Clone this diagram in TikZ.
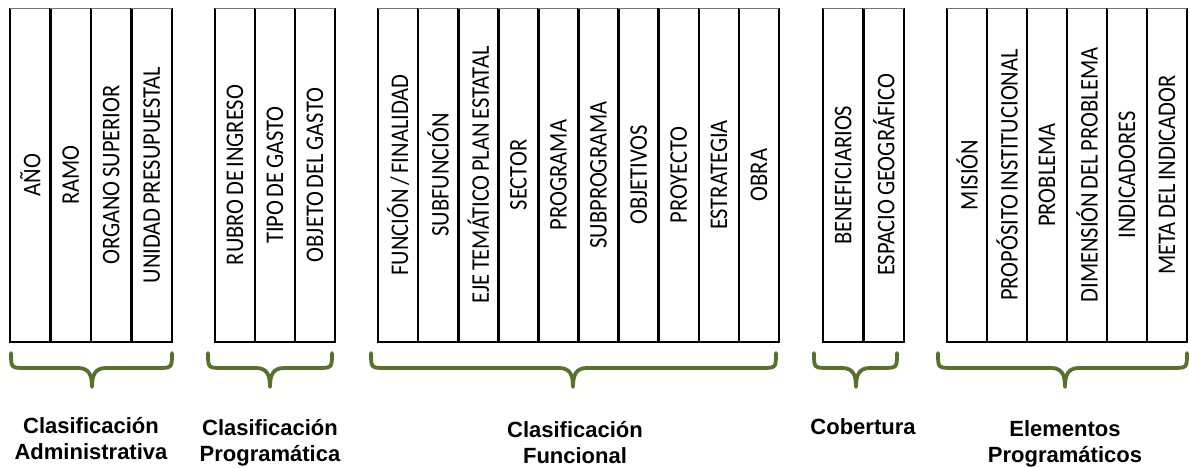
\documentclass[tikz,border=0pt]{standalone}
\usepackage{fontspec}
\setmainfont{Carlito}[WordSpace=0.7]
\newfontfamily\grouplabelfont{Liberation Sans}
\usepackage{graphicx}
\definecolor{bracegreen}{RGB}{88,113,44}
\newcommand{\greenbrace}[3]{%
  \draw[brace] (#1,115) .. controls (#1,100) .. (#1+15,100) -- (#2-14,100)
    .. controls (#2-3,100) and (#2,93) .. (#2,81)
    .. controls (#2,93) and (#2+3,100) .. (#2+14,100) -- (#3-15,100)
    .. controls (#3,100) .. (#3,115);}
\newcommand{\coltext}[1]{\rotatebox{90}{\scalebox{1}[1.13]{#1}}}
\begin{document}
\begin{tikzpicture}[x=1pt,y=1pt,
  col/.style={draw=none, minimum height=333pt, inner sep=0pt, font=\fontsize{22.5}{26}\selectfont},
  colframe/.style={line width=2.2pt, black},
  topframe/.style={line width=1.2pt, black!55},
  brace/.style={draw=bracegreen, line width=3.8pt, line cap=round, line join=round},
  grouplabel/.style={font=\grouplabelfont\bfseries\fontsize{22}{26}\selectfont, align=center, inner sep=0pt}]
\useasboundingbox (0,0) rectangle (1189,468);
% group 1
\foreach \lab [count=\i] in {AÑO, RAMO, ORGANO SUPERIOR, UNIDAD PRESUPUESTAL} {
  \node[col, minimum width=40.5pt] (a\i) at ({10+40.5*(\i-0.5)},293) {\coltext{\lab}};
  \draw[colframe] (a\i.north west) -- (a\i.south west) -- (a\i.south east) -- (a\i.north east);
  \draw[topframe] (a\i.north west) -- (a\i.north east);
}
% group 2
\foreach \lab [count=\i] in {RUBRO DE INGRESO, TIPO DE GASTO, OBJETO DEL GASTO} {
  \node[col, minimum width=40pt] (b\i) at ({215+40*(\i-0.5)},293) {\coltext{\lab}};
  \draw[colframe] (b\i.north west) -- (b\i.south west) -- (b\i.south east) -- (b\i.north east);
  \draw[topframe] (b\i.north west) -- (b\i.north east);
}
% group 3
\foreach \lab [count=\i] in {FUNCIÓN / FINALIDAD, SUBFUNCIÓN, EJE TEMÁTICO PLAN ESTATAL, SECTOR, PROGRAMA, SUBPROGRAMA, OBJETIVOS, PROYECTO, ESTRATEGIA, OBRA} {
  \node[col, minimum width=40.1pt] (c\i) at ({378+40.1*(\i-0.5)},293) {\coltext{\lab}};
  \draw[colframe] (c\i.north west) -- (c\i.south west) -- (c\i.south east) -- (c\i.north east);
  \draw[topframe] (c\i.north west) -- (c\i.north east);
}
% group 4
\foreach \lab [count=\i] in {BENEFICIARIOS, ESPACIO GEOGRÁFICO} {
  \node[col, minimum width=40.5pt] (d\i) at ({823+40.5*(\i-0.5)},293) {\coltext{\lab}};
  \draw[colframe] (d\i.north west) -- (d\i.south west) -- (d\i.south east) -- (d\i.north east);
  \draw[topframe] (d\i.north west) -- (d\i.north east);
}
% group 5
\foreach \lab [count=\i] in {MISIÓN, PROPÓSITO INSTITUCIONAL, PROBLEMA, DIMENSIÓN DEL PROBLEMA, INDICADORES, META DEL INDICADOR} {
  \node[col, minimum width=40pt] (e\i) at ({947+40*(\i-0.5)},293) {\coltext{\lab}};
  \draw[colframe] (e\i.north west) -- (e\i.south west) -- (e\i.south east) -- (e\i.north east);
  \draw[topframe] (e\i.north west) -- (e\i.north east);
}
% braces
\greenbrace{11}{92}{172}
\greenbrace{208}{270}{332}
\greenbrace{371}{573}{776}
\greenbrace{814}{856}{897}
\greenbrace{938}{1065}{1187}
% labels
\node[grouplabel] (l1) at (91,29) {Clasificación\\Administrativa};
\node[grouplabel] (l2) at (270,25) {Clasificación\\Programática};
\node[grouplabel] (l3) at (575,25) {Clasificación\\Funcional};
\node[grouplabel] (l4) at (863,41) {Cobertura};
\node[grouplabel] (l5) at (1065,24) {Elementos\\Programáticos};
\end{tikzpicture}
\end{document}
